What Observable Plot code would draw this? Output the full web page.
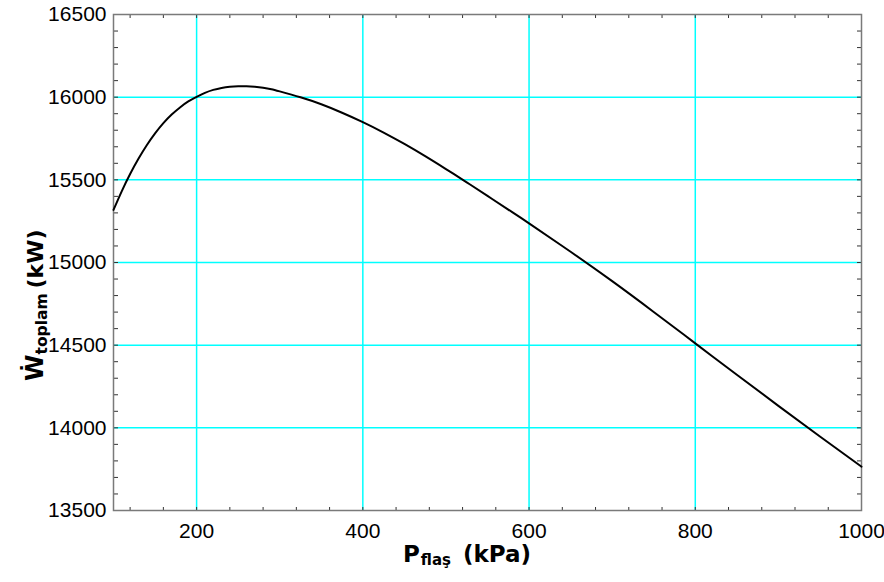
<!DOCTYPE html>
<html>
<head>
<meta charset="utf-8">
<script src="https://cdn.jsdelivr.net/npm/d3@7"></script>
<script src="https://cdn.jsdelivr.net/npm/@observablehq/plot@0.6"></script>
<style>
  html, body { margin: 0; padding: 0; background: #fff; }
  #chart { width: 884px; height: 582px; }
</style>
</head>
<body>
<div id="chart"></div>
<script>
// Flash pressure (kPa)
const pressure = [100, 110, 120, 130, 140, 150, 160, 170, 180, 190, 200, 210, 220, 230, 240, 250, 260, 270, 280, 290, 300, 325, 350, 375, 400, 425, 450, 475, 500, 525, 550, 575, 600, 650, 700, 750, 800, 850, 900, 950, 1000];
// Total power (kW)
const totalPower = [15318, 15432, 15535, 15627, 15709, 15781, 15843, 15895, 15938, 15974, 16002, 16026, 16044, 16056, 16063, 16066, 16066, 16063, 16057, 16048, 16035, 15999, 15957, 15906, 15849, 15786, 15717, 15643, 15565, 15485, 15403, 15320, 15237, 15065, 14887, 14701, 14511, 14321, 14133, 13948, 13765];

const xGrid = [200, 400, 600, 800];
const yGrid = [14000, 14500, 15000, 15500, 16000];
const xTickLabels = [200, 400, 600, 800, 1000];
const yTickLabels = [13500, 14000, 14500, 15000, 15500, 16000, 16500];
const xMinorTicks = d3.range(120, 1001, 40);
const yMinorTicks = d3.range(13600, 16500, 100);

const data = pressure.map((p, i) => ({p, w: totalPower[i]}));

const cyan = "#00ffff";
const tickColor = "#333";
const blank = () => "";

const chart = Plot.plot({
  width: 884,
  height: 582,
  marginLeft: 113,
  marginRight: 23,
  marginTop: 14,
  marginBottom: 72,
  style: {fontFamily: "'Liberation Sans', Arial, sans-serif", fontSize: "21px", color: "#000", background: "#fff"},
  x: {domain: [100, 1000], axis: null},
  y: {domain: [13500, 16500], axis: null},
  marks: [
    Plot.gridX(xGrid, {stroke: cyan, strokeOpacity: 1, strokeWidth: 1.5}),
    Plot.gridY(yGrid, {stroke: cyan, strokeOpacity: 1, strokeWidth: 1.5}),
    Plot.axisX(xMinorTicks, {anchor: "bottom", tickSize: -3, tickFormat: blank, label: null, stroke: tickColor}),
    Plot.axisX(xMinorTicks, {anchor: "top", tickSize: -3, tickFormat: blank, label: null, stroke: tickColor}),
    Plot.axisY(yMinorTicks, {anchor: "left", tickSize: -5, tickFormat: blank, label: null, stroke: tickColor}),
    Plot.axisY(yMinorTicks, {anchor: "right", tickSize: -5, tickFormat: blank, label: null, stroke: tickColor}),
    Plot.axisX(xTickLabels, {anchor: "bottom", tickSize: 0, tickPadding: 13, tickFormat: "d", label: null, fill: "#000", stroke: "#000", strokeWidth: 0.3}),
    Plot.axisY(yTickLabels, {anchor: "left", tickSize: 0, tickPadding: 7, tickFormat: "d", label: null, fill: "#000", stroke: "#000", strokeWidth: 0.3}),
    Plot.frame({stroke: "#7a7a7a", strokeWidth: 1.5}),
    Plot.line(data, {x: "p", y: "w", stroke: "#000", strokeWidth: 2, curve: "natural"})
  ]
});

document.getElementById("chart").appendChild(chart);

// Axis titles with subscripts
const svg = d3.select(chart);
const labelFont = "'DejaVu Sans', sans-serif";

const xt = svg.append("text")
  .attr("x", 403).attr("y", 562)
  .attr("text-anchor", "start")
  .attr("font-family", labelFont).attr("font-weight", "bold")
  .attr("font-size", 23).attr("fill", "#000");
xt.append("tspan").text("P");
xt.append("tspan").attr("font-size", 15).attr("dy", 3).attr("dx", 1).text("flaş");
xt.append("tspan").attr("dy", -3).attr("dx", 12).text("(kPa)");

const yt = svg.append("text")
  .attr("transform", "translate(43,381) rotate(-90)")
  .attr("text-anchor", "start")
  .attr("font-family", labelFont).attr("font-weight", "bold")
  .attr("font-size", 22).attr("fill", "#000");
yt.append("tspan").attr("font-size", 24).text("Ẇ");
yt.append("tspan").attr("font-size", 15.5).attr("dy", 4).text("toplam");
yt.append("tspan").attr("dy", -4).attr("dx", 5).text("(kW)");
</script>
</body>
</html>
